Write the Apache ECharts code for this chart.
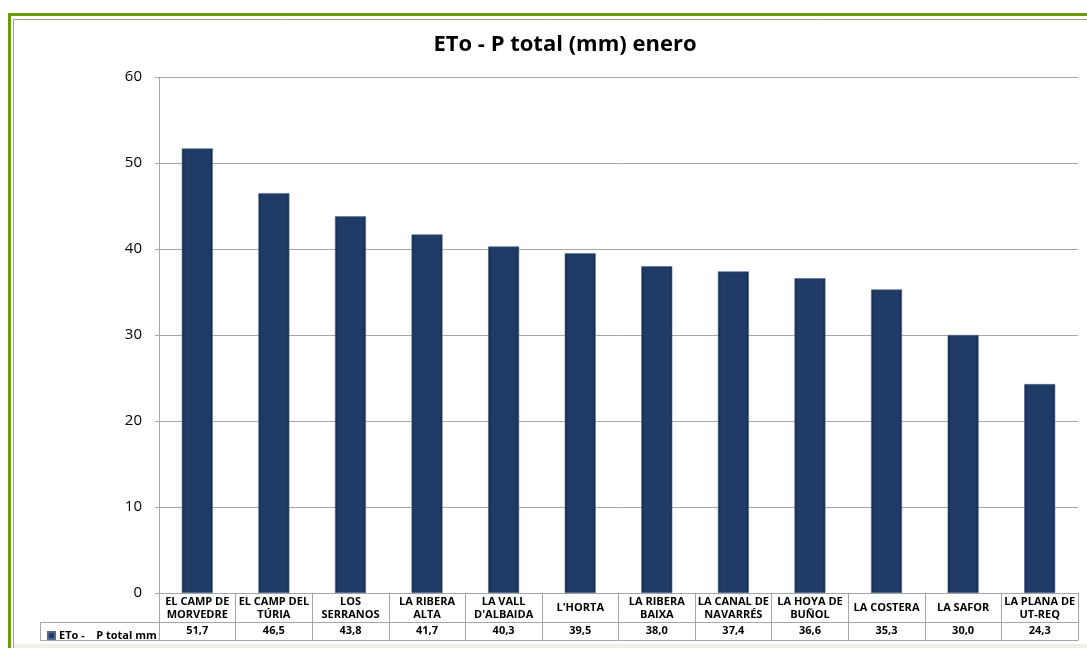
<!DOCTYPE html>
<html>
<head>
<meta charset="utf-8">
<script src="https://cdn.jsdelivr.net/npm/echarts@6/dist/echarts.min.js"></script>
<style>
html,body{margin:0;padding:0;background:#fff;}
#chart{width:1087px;height:648px;}
</style>
</head>
<body>
<div id="chart"></div>
<script>
const categories = [
  "EL CAMP DE\nMORVEDRE", "EL CAMP DEL\nTÚRIA", "LOS\nSERRANOS", "LA RIBERA\nALTA",
  "LA VALL\nD'ALBAIDA", "L'HORTA", "LA RIBERA\nBAIXA", "LA CANAL DE\nNAVARRÉS",
  "LA HOYA DE\nBUÑOL", "LA COSTERA", "LA SAFOR", "LA PLANA DE\nUT-REQ"
];
const values = [51.7, 46.5, 43.8, 41.7, 40.3, 39.5, 38.0, 37.4, 36.6, 35.3, 30.0, 24.3];
const seriesName = "ETo -    P total mm";
const titleText = "ETo - P total (mm) enero";
const yTicks = { min: 0, max: 60, interval: 10 };

const valueLabels = values.map(v => v.toFixed(1).replace('.', ','));
const FONT = '"Open Sans", "Noto Sans", sans-serif';
const GRID = '#a6a6a6';

const chart = echarts.init(document.getElementById('chart'), null, { renderer: 'canvas' });
chart.setOption({
  animation: false,
  backgroundColor: '#ffffff',
  textStyle: { fontFamily: FONT },
  title: {
    text: titleText,
    left: 560, top: 29, textAlign: 'center',
    textStyle: { fontFamily: FONT, fontSize: 22, fontWeight: 'bold', color: '#000' }
  },
  legend: {
    left: 42, top: 625,
    icon: 'rect', itemWidth: 7, itemHeight: 7, itemGap: 4,
    textStyle: { fontFamily: FONT, fontSize: 11, fontWeight: 'bold', color: '#000', padding: [0, 0, 0, -1] },
    data: [seriesName]
  },
  grid: { left: 159, right: 9, top: 77, bottom: 55, containLabel: false },
  xAxis: [
    {
      type: 'category', data: categories, position: 'bottom',
      axisLine: { show: true, lineStyle: { color: GRID, width: 1 } },
      axisTick: { show: true, length: 47, lineStyle: { color: GRID } },
      axisLabel: {
        interval: 0, margin: 15, verticalAlign: 'middle', align: 'center',
        fontFamily: FONT, fontSize: 11, fontWeight: 'bold', lineHeight: 13, color: '#000'
      }
    },
    {
      type: 'category', data: valueLabels, position: 'bottom', offset: 29,
      axisLine: { show: true, lineStyle: { color: GRID, width: 1 } },
      axisTick: { show: true, length: 18, lineStyle: { color: GRID } },
      axisLabel: {
        interval: 0, margin: 9, verticalAlign: 'middle',
        fontFamily: FONT, fontSize: 11, fontWeight: 'bold', color: '#000'
      }
    },
    {
      type: 'category', data: valueLabels, position: 'bottom', offset: 47,
      axisLine: { show: true, lineStyle: { color: GRID, width: 1 } },
      axisTick: { show: false }, axisLabel: { show: false }
    }
  ],
  yAxis: {
    type: 'value', min: yTicks.min, max: yTicks.max, interval: yTicks.interval,
    axisLine: { show: true, lineStyle: { color: GRID } },
    axisTick: { show: true, length: 4, lineStyle: { color: GRID } },
    splitLine: { show: true, lineStyle: { color: GRID, width: 1 } },
    axisLabel: { fontFamily: FONT, fontSize: 15, color: '#000', margin: 17 }
  },
  series: [{
    name: seriesName, type: 'bar', xAxisIndex: 0, data: values, barWidth: 31,
    itemStyle: {
      color: new echarts.graphic.LinearGradient(0, 0, 1, 0, [
        { offset: 0, color: '#132848' },
        { offset: 0.1, color: '#1f3b66' },
        { offset: 0.9, color: '#1f3b66' },
        { offset: 1, color: '#132848' }
      ]),
      borderColor: '#53698e', borderWidth: 0.6
    }
  }],
  graphic: [
    { type: 'rect', silent: true, z: -1, shape: { x: 9.5, y: 14.5, width: 1100, height: 700 },
      style: { fill: null, stroke: '#6a9c0c', lineWidth: 3 } },
    { type: 'rect', silent: true, z: -1, shape: { x: 13.5, y: 19.5, width: 1100, height: 700 },
      style: { fill: null, stroke: '#94ab78', lineWidth: 1 } },
    { type: 'rect', silent: true, z: -1, shape: { x: 14, y: 644, width: 1080, height: 6 },
      style: { fill: '#efefe6' } },
    { type: 'rect', silent: true, z: 1, shape: { x: 40.5, y: 622.5, width: 119, height: 18 },
      style: { fill: null, stroke: GRID, lineWidth: 1 } }
  ]
});
</script>
</body>
</html>
